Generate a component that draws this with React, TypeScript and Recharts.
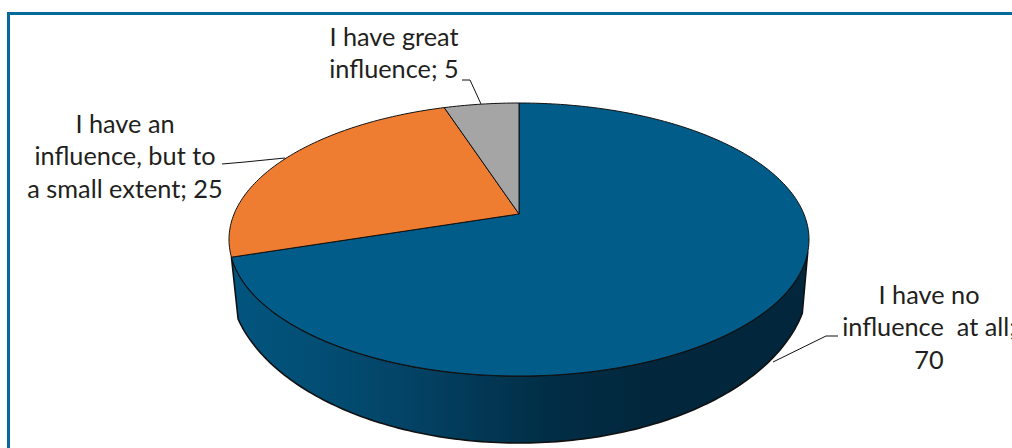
import { Pie, PieChart } from "recharts"

const categories = ["I have no influence at all", "I have an influence, but to a small extent", "I have great influence"]
const values = [70, 25, 5]
const colors = ["#015C8A", "#EE7D31", "#A5A5A5"]
const labelLines = [
  ["I have no", "influence  at all;", "70"],
  ["I have an", "influence, but to", "a small extent; 25"],
  ["I have great", "influence; 5"],
]

const data = categories.map((name, i) => ({ name, value: values[i], fill: colors[i] }))

// where each label sits and how its leader runs, by slice index
const labelBoxes = [
  { x: 929, y: 303.5 },
  { x: 125, y: 132.5 },
  { x: 394, y: 45.5 },
]
const leaders = [
  "M773 362L826 336L838 336",
  "M285 158L245 162L222 164",
  "M481 104L470 80L462 80",
]

const WIDTH = 1012
const HEIGHT = 448
const CX = 519
const CY = 239.5
const RADIUS = 290
const FONT = "Lato, 'Open Sans', sans-serif"

// the pie is tilted in perspective, so a disc is an ellipse with its centre pushed up
const TOP_DISC = { dy: 0, squash: 136.5 / RADIUS, shift: 0.187 }
const BOTTOM_DISC = { dy: 38.5, squash: 165 / RADIUS, shift: 0.0655 }
const FRONT_FROM = 106
const FRONT_TO = 252

type Disc = typeof TOP_DISC

// deg is clockwise from 12 o'clock, r is 0..1 of the radius
function project(disc: Disc, cx: number, cy: number, radius: number, deg: number, r = 1) {
  const rad = (deg * Math.PI) / 180
  const u = r * Math.sin(rad)
  const v = r * Math.cos(rad)
  const a = disc.shift
  const w = 1 + a * v
  return {
    x: cx + (radius * u * Math.sqrt(1 - a * a)) / w,
    y: cy + disc.dy - (radius * disc.squash * (v + a)) / w,
  }
}

function arcPoints(disc: Disc, p: any, from: number, to: number) {
  const pts: string[] = []
  const steps = Math.max(2, Math.ceil(Math.abs(to - from)))
  for (let i = 0; i <= steps; i++) {
    const pt = project(disc, p.cx, p.cy, p.outerRadius, from + ((to - from) * i) / steps)
    pts.push(`${pt.x.toFixed(2)} ${pt.y.toFixed(2)}`)
  }
  return pts
}

function TopSlice(p: any) {
  const from = 90 - p.startAngle
  const to = 90 - p.endAngle
  const apex = project(TOP_DISC, p.cx, p.cy, p.outerRadius, 0, 0)
  const d = `M${apex.x} ${apex.y}L${arcPoints(TOP_DISC, p, from, to).join("L")}Z`
  return <path d={d} fill={p.fill} stroke="#111" strokeWidth={1} strokeLinejoin="round" />
}

function WallSlice(p: any) {
  const from = Math.max(90 - p.startAngle, FRONT_FROM)
  const to = Math.min(90 - p.endAngle, FRONT_TO)
  if (to <= from) return <g />
  const upper = arcPoints(TOP_DISC, p, from, to)
  const lower = arcPoints(BOTTOM_DISC, p, from, to).reverse()
  return (
    <g>
      <defs>
        <linearGradient id={`wall-${p.index}`} gradientUnits="userSpaceOnUse" x1={238} x2={800} y1={0} y2={0}>
          <stop offset="0" stopColor="#02557F" />
          <stop offset="0.12" stopColor="#024F76" />
          <stop offset="0.3" stopColor="#034366" />
          <stop offset="0.55" stopColor="#012E46" />
          <stop offset="0.75" stopColor="#02263B" />
          <stop offset="1" stopColor="#02263B" />
        </linearGradient>
      </defs>
      <path
        d={`M${upper.join("L")}L${lower.join("L")}Z`}
        fill={`url(#wall-${p.index})`}
        stroke="#111"
        strokeWidth={1.6}
        strokeLinejoin="round"
      />
    </g>
  )
}

function SliceLabel(p: any) {
  const box = labelBoxes[p.index]
  return (
    <g>
      <path d={leaders[p.index]} fill="none" stroke="#111" strokeWidth={1} />
      <text
        x={box.x}
        y={box.y}
        textAnchor="middle"
        fontFamily={FONT}
        fontSize={25.3}
        fill="#231F20"
        style={{ whiteSpace: "pre" }}
      >
        {labelLines[p.index].map((line, i) => (
          <tspan key={i} x={box.x} y={box.y + i * 32.5}>
            {line}
          </tspan>
        ))}
      </text>
    </g>
  )
}

export default function App() {
  return (
    <div
      style={{
        position: "fixed",
        left: 0,
        top: 0,
        width: WIDTH,
        height: HEIGHT,
        overflow: "hidden",
        background: "#fff",
      }}
    >
      <div
        style={{
          position: "absolute",
          left: 7,
          top: 12,
          width: 1100,
          height: 600,
          border: "3px solid #05699A",
        }}
      />
      <div style={{ position: "absolute", left: 0, top: 0 }}>
        <PieChart width={WIDTH} height={HEIGHT} margin={{ top: 0, right: 0, bottom: 0, left: 0 }}>
          <Pie
            data={data}
            dataKey="value"
            nameKey="name"
            cx={CX}
            cy={CY}
            outerRadius={RADIUS}
            startAngle={90}
            endAngle={-270}
            paddingAngle={0}
            shape={WallSlice}
            isAnimationActive={false}
          />
          <Pie
            data={data}
            dataKey="value"
            nameKey="name"
            cx={CX}
            cy={CY}
            outerRadius={RADIUS}
            startAngle={90}
            endAngle={-270}
            paddingAngle={0}
            shape={TopSlice}
            label={SliceLabel}
            labelLine={false}
            isAnimationActive={false}
          />
        </PieChart>
      </div>
    </div>
  )
}
